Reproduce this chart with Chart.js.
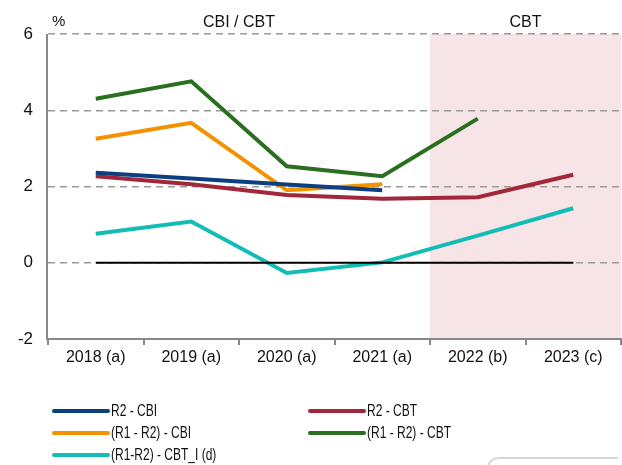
<!DOCTYPE html>
<html>
<head>
<meta charset="utf-8">
<script src="https://cdn.jsdelivr.net/npm/chart.js@4"></script>
<style>
html,body{margin:0;padding:0;background:#fff;}
#wrap{position:relative;width:622px;height:465px;}
</style>
</head>
<body>
<div id="wrap"><canvas id="c" width="622" height="465"></canvas></div>
<script>
const categories = ['2018 (a)', '2019 (a)', '2020 (a)', '2021 (a)', '2022 (b)', '2023 (c)'];
const yTicks = [6, 4, 2, 0, -2];
const r2CBI = [2.36, 2.21, 2.05, 1.90, null, null];
const r2CBT = [2.27, 2.06, 1.78, 1.68, 1.72, 2.31];
const r1r2CBI = [3.25, 3.67, 1.90, 2.06, null, null];
const r1r2CBT = [4.30, 4.76, 2.53, 2.27, 3.78, null];
const r1r2CBTI = [0.76, 1.08, -0.27, 0.01, 0.71, 1.43];
const zeroLine = [0, 0, 0, 0, 0, 0];
const sectionLabels = ['CBI / CBT', 'CBT'];
const unitLabel = '%';

const FONT = "'Liberation Sans', Arial, sans-serif";

const decorPlugin = {
  id: 'decor',
  beforeDraw(chart) {
    const {ctx, chartArea, scales} = chart;
    const x0 = scales.x.getPixelForValue(3.5);
    ctx.save();
    ctx.fillStyle = '#f7e4e6';
    ctx.fillRect(x0, chartArea.top, chartArea.right - x0, chartArea.bottom - chartArea.top);
    ctx.restore();
  },
  afterDraw(chart) {
    const {ctx, chartArea, scales} = chart;
    const x0 = scales.x.getPixelForValue(3.5);
    ctx.save();
    // solid left axis line
    ctx.setLineDash([]);
    ctx.strokeStyle = '#888';
    ctx.lineWidth = 2;
    ctx.beginPath();
    ctx.moveTo(chartArea.left - 1, chartArea.top);
    ctx.lineTo(chartArea.left - 1, chartArea.bottom + 1);
    ctx.stroke();

    ctx.fillStyle = '#111';
    ctx.font = '16px ' + FONT;
    ctx.textBaseline = 'middle';
    ctx.textAlign = 'center';
    ctx.fillText(sectionLabels[0], (chartArea.left + x0) / 2, 23);
    ctx.fillText(sectionLabels[1], (x0 + chartArea.right) / 2, 23);
    ctx.textAlign = 'left';
    ctx.font = '15px ' + FONT;
    ctx.fillText(unitLabel, chartArea.left + 4, 22);

    // legend
    const items = chart.data.datasets.filter(d => d.label);
    const cols = [54, 310];
    const rows = [411, 433, 455];
    items.forEach((d, i) => {
      const cx = cols[i % 2];
      const cy = rows[Math.floor(i / 2)];
      ctx.strokeStyle = d.borderColor;
      ctx.lineWidth = 4;
      ctx.lineCap = 'round';
      ctx.beginPath();
      ctx.moveTo(cx, cy);
      ctx.lineTo(cx + 54, cy);
      ctx.stroke();
      ctx.save();
      ctx.translate(cx + 57, cy + 1);
      ctx.scale(0.75, 1);
      ctx.fillStyle = '#111';
      ctx.font = '16px ' + FONT;
      ctx.textAlign = 'left';
      ctx.textBaseline = 'middle';
      ctx.fillText(d.label, 0, 0);
      ctx.restore();
    });

    // faint box remnant at bottom right
    ctx.strokeStyle = '#d8d8d8';
    ctx.lineWidth = 2;
    ctx.lineCap = 'butt';
    ctx.beginPath();
    ctx.moveTo(488, 470);
    ctx.lineTo(488, 466);
    ctx.quadraticCurveTo(490, 458, 500, 458);
    ctx.lineTo(618, 458);
    ctx.stroke();
    ctx.restore();
  }
};

const mk = (label, data, color) => ({
  label, data, borderColor: color, backgroundColor: color,
  borderWidth: 4, pointRadius: 0, tension: 0, fill: false,
  borderCapStyle: 'butt', borderJoinStyle: 'miter', spanGaps: false
});

new Chart(document.getElementById('c'), {
  type: 'line',
  data: {
    labels: categories,
    datasets: [
      Object.assign(mk('', zeroLine, '#000000'), {borderWidth: 2, order: -1}),
      mk('R2 - CBI', r2CBI, '#0b3f7f'),
      mk('R2 - CBT', r2CBT, '#a0283a'),
      mk('(R1 - R2) - CBI', r1r2CBI, '#f39200'),
      mk('(R1 - R2) - CBT', r1r2CBT, '#2a6e1f'),
      mk('(R1-R2) - CBT_I (d)', r1r2CBTI, '#13bdb5')
    ]
  },
  options: {
    responsive: false,
    animation: false,
    layout: {padding: {top: 34, right: 1, bottom: 86, left: 0}},
    plugins: {legend: {display: false}, tooltip: {enabled: false}},
    scales: {
      x: {
        offset: true,
        grid: {
          offset: true, drawOnChartArea: false, drawTicks: true,
          tickLength: 6, color: '#888', lineWidth: 2
        },
        border: {display: true, color: '#888', width: 2},
        ticks: {color: '#111', font: {family: FONT, size: 16}, padding: 3, maxRotation: 0},
        afterFit(s) { s.height = 40; }
      },
      y: {
        min: -2, max: 6,
        afterBuildTicks(s) { s.ticks = yTicks.map(v => ({value: v})); },
        grid: {
          drawTicks: false,
          color: ctx => ctx.tick && ctx.tick.value === -2 ? 'rgba(0,0,0,0)' : '#999999',
          lineWidth: 1.5
        },
        border: {display: false, dash: [7, 5]},
        ticks: {color: '#111', font: {family: FONT, size: 17}, padding: 15},
        afterFit(s) { s.width = 48; }
      }
    }
  },
  plugins: [decorPlugin]
});
</script>
</body>
</html>
